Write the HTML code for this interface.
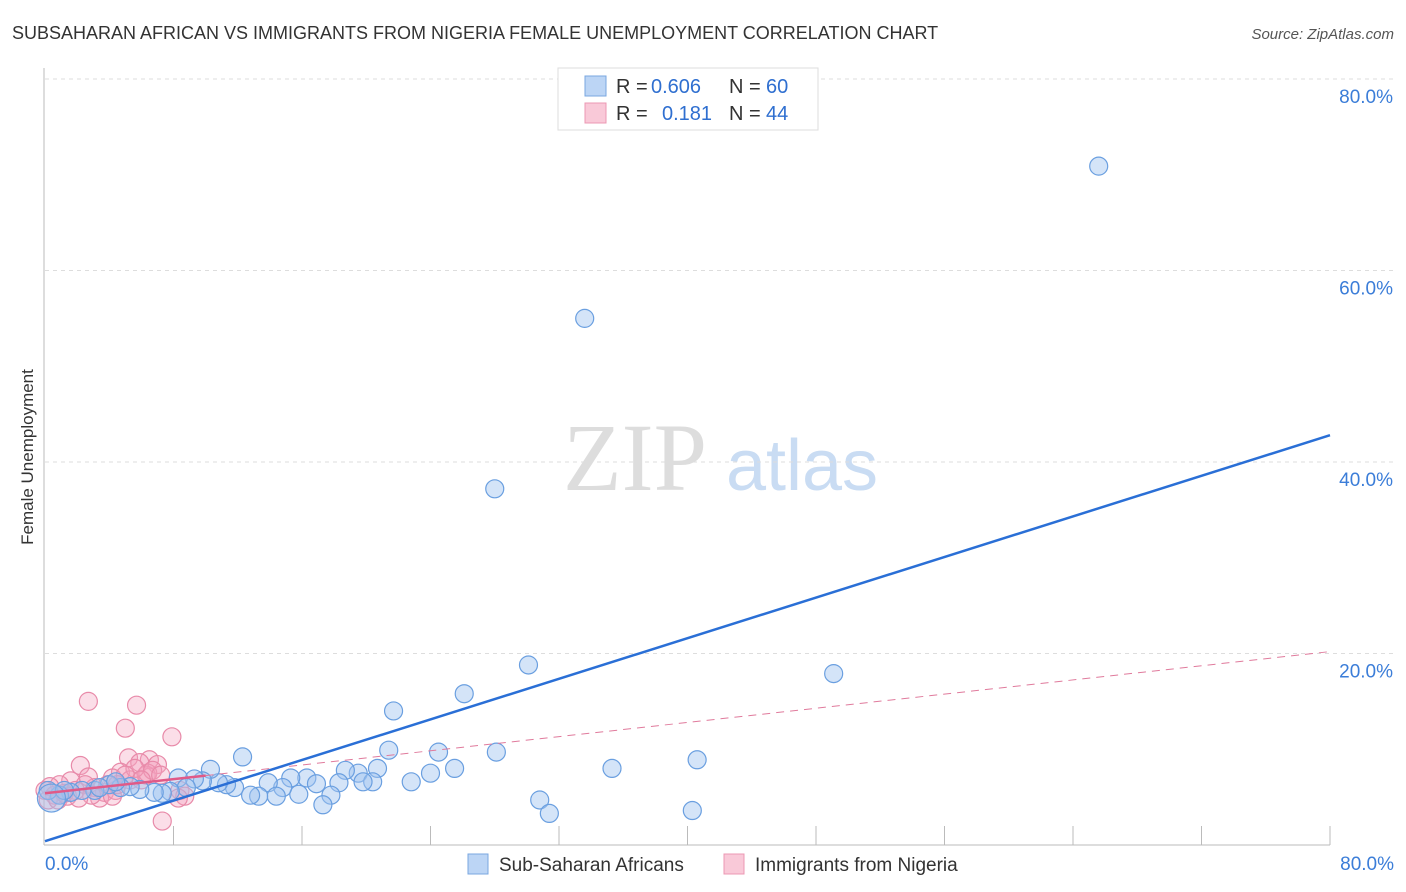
<!DOCTYPE html>
<html><head><meta charset="utf-8"><style>
body{margin:0;background:#fff;font-family:"Liberation Sans",sans-serif}
</style></head><body>
<svg id="chart" width="1406" height="892" xmlns="http://www.w3.org/2000/svg" style="display:block">
<text x="12" y="39" font-size="18" fill="#333">SUBSAHARAN AFRICAN VS IMMIGRANTS FROM NIGERIA FEMALE UNEMPLOYMENT CORRELATION CHART</text>
<text x="1394" y="39" font-size="15" fill="#555" font-style="italic" text-anchor="end">Source: ZipAtlas.com</text>
<text transform="translate(33,457) rotate(-90)" font-size="17" fill="#333" text-anchor="middle">Female Unemployment</text>
<g>
<text x="635" y="490" font-size="96" fill="#ddd" font-family="Liberation Serif,serif" text-anchor="middle">ZIP</text>
<text x="802" y="490" font-size="72" fill="#c9dcf3" text-anchor="middle">atlas</text>
</g>
<g id="grid"></g>
<g id="axes"></g>
<g id="marks"></g>
<g>
<rect x="558" y="68" width="260" height="62" fill="#fff" stroke="#ddd"/>
<rect x="585" y="76" width="21" height="20" fill="#bcd5f5" stroke="#7aa7e0"/>
<rect x="585" y="103" width="21" height="20" fill="#f9c9d8" stroke="#ec98b3"/>
<text x="616" y="93" font-size="20" fill="#333">R =</text>
<text x="651" y="93" font-size="20" fill="#2f6fd0">0.606</text>
<text x="729" y="93" font-size="20" fill="#333">N =</text>
<text x="766" y="93" font-size="20" fill="#2f6fd0">60</text>
<text x="616" y="120" font-size="20" fill="#333">R =</text>
<text x="662" y="120" font-size="20" fill="#2f6fd0">0.181</text>
<text x="729" y="120" font-size="20" fill="#333">N =</text>
<text x="766" y="120" font-size="20" fill="#2f6fd0">44</text>
</g>
<g>
<rect x="468" y="854" width="20" height="20" fill="#bcd5f5" stroke="#7aa7e0"/>
<text x="499" y="871" font-size="19" fill="#333">Sub-Saharan Africans</text>
<rect x="724" y="854" width="20" height="20" fill="#f9c9d8" stroke="#ec98b3"/>
<text x="755" y="871" font-size="19" fill="#333">Immigrants from Nigeria</text>
</g>
</svg>
<script>
const yTicks=[20,40,60,80];
const xTickCount=10;
const blueX=[65.6,33.6,28.0,30.1,49.1,26.1,21.7,40.6,35.3,28.1,24.5,21.4,25.5,24.0,22.8,20.7,19.5,18.7,20.4,19.8,18.3,17.8,17.3,16.3,15.3,16.9,15.8,14.8,13.9,14.4,13.3,12.8,12.3,11.8,11.3,10.8,10.3,9.8,9.3,8.3,8.8,7.8,7.3,6.8,5.9,5.3,4.7,4.0,3.1,2.3,1.6,0.9,30.8,31.4,40.3,0.2,1.2,3.4,4.4,0.4];
const blueY=[70.9,55.0,37.2,18.8,17.9,15.8,14.0,8.9,8.0,9.7,9.7,9.9,8.0,7.5,6.6,8.0,7.5,7.8,6.6,6.6,6.5,5.2,4.2,7.0,7.0,6.4,5.3,6.0,6.5,5.1,5.1,5.2,9.2,6.0,6.3,6.5,7.9,6.7,6.9,7.0,6.0,5.6,5.4,5.5,5.8,6.1,6.0,6.3,5.7,5.7,5.5,5.2,4.7,3.3,3.6,5.7,5.7,6.0,6.6,4.9];
const pinkX=[2.7,5.7,5.0,7.9,2.2,5.2,6.5,7.0,5.9,6.3,4.7,4.2,5.3,2.7,1.6,0.9,0.3,0.0,0.6,1.2,1.9,3.1,3.7,4.4,3.4,4.2,8.4,8.7,8.3,7.3,6.4,5.6,5.0,2.5,2.9,0.2,0.8,1.4,2.1,3.9,4.5,6.7,7.2,6.0];
const pinkY=[15.0,14.6,12.2,11.3,8.3,9.1,8.9,8.4,8.6,7.3,7.6,7.0,6.8,7.1,6.7,6.3,6.1,5.7,5.2,5.4,5.7,6.0,5.5,5.7,4.9,5.1,5.7,5.1,4.9,2.5,7.5,8.0,7.3,6.3,5.2,4.7,4.7,5.1,4.9,6.3,6.3,7.8,7.3,6.8];
const blueTrend=[0.4,42.8];
const pinkTrend=[5.4,20.2];
const pinkSolidEnd=10;
const NS="http://www.w3.org/2000/svg";
const X=v=>45+v*(1285/80);
const Y=v=>845-v*(766/80);
function mk(tag,attrs,parent){const e=document.createElementNS(NS,tag);for(const k in attrs)e.setAttribute(k,attrs[k]);parent.appendChild(e);return e;}
const grid=document.getElementById('grid'),axes=document.getElementById('axes'),marks=document.getElementById('marks');
yTicks.forEach(t=>{
 const l=mk('line',{x1:45,x2:1395,y1:Y(t),y2:Y(t),stroke:'#ddd','stroke-dasharray':'4,4'},grid);
 
 
 const tx=mk('text',{x:1393,y:Y(t)+24,'font-size':19,fill:'#3b7dd8','text-anchor':'end'},axes);
 tx.textContent=t.toFixed(1)+'%';
 
 
});
const ax=mk('line',{x1:44,x2:44,y1:68,y2:845,stroke:'#bbb'},axes);


const bx=mk('line',{x1:44,x2:1330,y1:845,y2:845,stroke:'#bbb'},axes);


for(let i=1;i<=xTickCount;i++){
 const v=i*8;
 const tk=mk('line',{x1:X(v),x2:X(v),y1:826,y2:845,stroke:'#bbb'},axes);
 
 
}
[[0,'start',45],[80,'end',1394]].forEach(([v,a,x])=>{
 const t=mk('text',{x:x,y:870,'font-size':19,fill:'#3b7dd8','text-anchor':a},axes);
 t.textContent=v.toFixed(1)+'%';
 
 
});
pinkX.forEach((x,i)=>{
 const c=mk('circle',{cx:X(x),cy:Y(pinkY[i]),r:9,fill:'rgba(244,160,190,0.35)',stroke:'#e88aa9','stroke-width':1.2},marks);
 
 
});
blueX.forEach((x,i)=>{
 const c=mk('circle',{cx:X(x),cy:Y(blueY[i]),r:i===blueX.length-1?14:9,fill:'rgba(160,196,240,0.45)',stroke:'#6a9fe0','stroke-width':1.2},marks);
 
 
});
const pY=v=>pinkTrend[0]+(pinkTrend[1]-pinkTrend[0])*v/80;
const pd=mk('line',{x1:X(pinkSolidEnd),y1:Y(pY(pinkSolidEnd)),x2:X(80),y2:Y(pY(80)),stroke:'#e07a9c','stroke-width':1,'stroke-dasharray':'8,6'},marks);


const ps=mk('line',{x1:X(0),y1:Y(pY(0)),x2:X(pinkSolidEnd),y2:Y(pY(pinkSolidEnd)),stroke:'#e05a88','stroke-width':2.5},marks);


const bl=mk('line',{x1:X(0),y1:Y(blueTrend[0]),x2:X(80),y2:Y(blueTrend[1]),stroke:'#2a6fd6','stroke-width':2.5},marks);


</script>
</body></html>
